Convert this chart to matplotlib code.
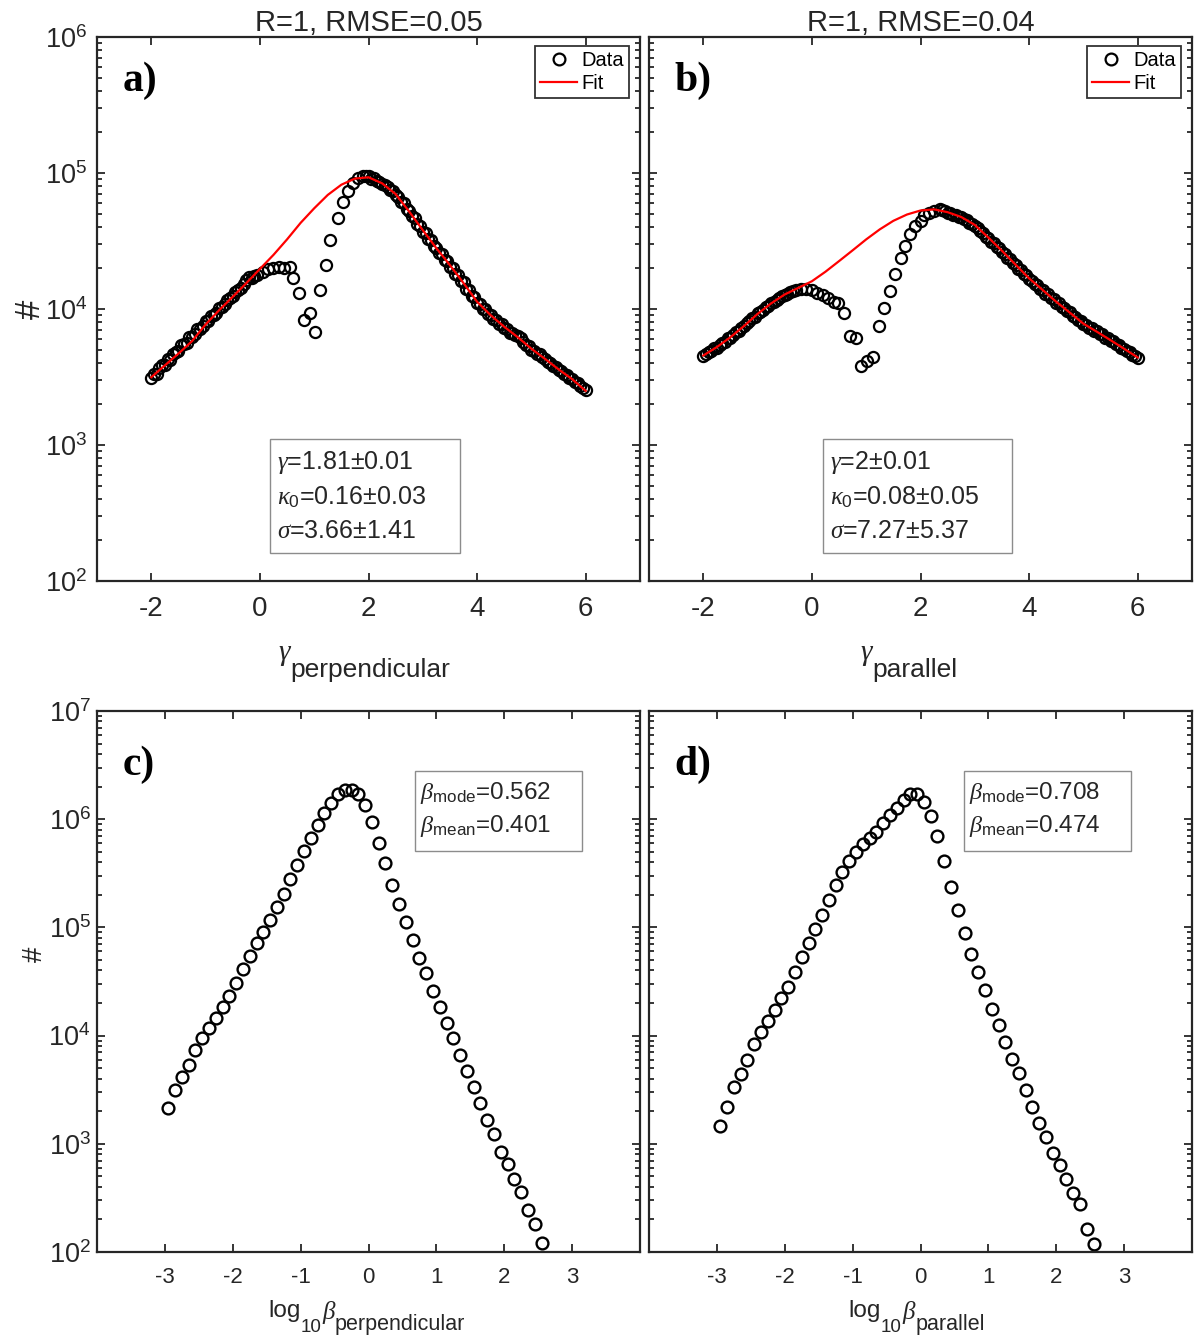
import numpy as np
import matplotlib
matplotlib.use('Agg')
import matplotlib.pyplot as plt
from matplotlib.patches import Rectangle
from matplotlib.lines import Line2D
from matplotlib.ticker import LogLocator, NullFormatter

plt.rcParams['font.family'] = ['Liberation Sans', 'DejaVu Sans']
plt.rcParams['mathtext.fontset'] = 'custom'
plt.rcParams['mathtext.rm'] = 'Liberation Sans'
plt.rcParams['mathtext.it'] = 'Liberation Serif:italic'
plt.rcParams['mathtext.bf'] = 'Liberation Sans:bold'

# ---------------- data: panel a (gamma perpendicular) ----------------
a_x_left = np.linspace(-2.0, -0.30, 35)
a_y_left = [3100, 3350, 3300, 3700, 3850, 3900, 4300, 4250, 4700, 4800,
            4900, 5400, 5500, 5650, 6200, 6250, 6500, 7100, 7150, 7500,
            8100, 8200, 8900, 9000, 9400, 10200, 10300, 10800, 11600, 12000,
            12400, 13300, 13800, 14200, 15300]
a_x_mid = [-0.25, -0.20, -0.15, -0.10, -0.05, 0.05, 0.15, 0.25, 0.35, 0.45,
           0.55, 0.61, 0.72, 0.81, 0.93, 1.02, 1.11, 1.22, 1.30, 1.44,
           1.53, 1.62, 1.71, 1.80, 1.89]
a_y_mid = [16400, 17200, 17000, 17500, 17800, 18600, 19800, 20000, 20200, 20100,
           20400, 16900, 13100, 8300, 9300, 6750, 13700, 21200, 32400, 46800,
           61000, 73500, 84700, 92200, 94800]
a_x_right = np.linspace(1.95, 6.0, 82)
a_y_right = [95500, 94500,
             91000, 91500, 87500, 86500, 82500, 81000, 79000, 74500, 73500, 69000,
             66500, 61500, 60000, 54500, 52500, 48000, 46500, 42000, 41000, 37000,
             36000, 32500, 32000, 29000, 28300, 25800, 25200, 22800, 22500, 20500,
             20100, 18200, 17800, 16100, 15700, 14100, 13800, 12400, 12200, 11000,
             10900, 10000, 10000, 9150, 9100, 8400, 8350, 7800, 7750, 7200,
             7100, 6700, 6650, 6450, 6300, 6150, 5700, 5450, 5350, 5000,
             4950, 4700, 4650, 4400, 4320, 4100, 4020, 3800, 3760, 3550,
             3500, 3320, 3280, 3100, 3060, 2900, 2850, 2700, 2640, 2520]
fit_x = np.linspace(-2.0, 6.0, 33)
a_fit = [3150, 3850, 4700, 5800, 7700, 9800, 12300, 15500, 19700, 25000,
         32500, 43000, 55000, 69000, 82000, 91000, 93000, 84000, 70000, 52000,
         38000, 28000, 21000, 15500, 11300, 9000, 7400, 6200, 5100, 4300,
         3600, 3050, 2500]

# ---------------- data: panel b (gamma parallel) ----------------
b_x_left = np.linspace(-2.0, -0.30, 35)
b_y_left = [4500, 4700, 4850, 4900, 5150, 5200, 5450, 5650, 5700, 6100,
            6150, 6450, 6750, 6900, 7300, 7450, 7900, 8100, 8550, 8800,
            9300, 9500, 9900, 10300, 10500, 11000, 11300, 11700, 12000, 12400,
            12700, 13000, 13400, 13600, 13900]
b_x_mid = [-0.20, -0.10, 0.00, 0.10, 0.20, 0.30, 0.40, 0.48, 0.60, 0.70,
           0.82, 0.91, 1.02, 1.12, 1.23, 1.33, 1.43, 1.53, 1.64, 1.72,
           1.81, 1.90, 2.00, 2.07, 2.15, 2.24]
b_y_mid = [14100, 14000, 13800, 13200, 12600, 12000, 11300, 11100, 9400, 6300,
           6100, 3800, 4150, 4450, 7500, 10200, 13600, 18100, 23900, 29200,
           35500, 40900, 44300, 49300, 50500, 52500]
b_x_right = np.linspace(2.35, 6.0, 74)
b_y_right = [54800, 53000, 52500, 51000, 50800, 49200, 49300, 47800, 47200, 45600,
             45100, 43200, 42500, 40600,
             39500, 37300, 36400, 34100, 33300, 31200, 30500, 28700, 27900, 26200,
             25500, 23900, 23200, 21700, 21200, 19800, 19400, 18100, 17700, 16500,
             16200, 15300, 15000, 14100, 13800, 13000, 12800, 12000, 11800, 11100,
             11000, 10300, 10200, 9600, 9450, 8900, 8800, 8300, 8150, 7700,
             7650, 7300, 7250, 6900, 6850, 6500, 6500, 6150, 6100, 5800,
             5800, 5500, 5450, 5200, 5100, 4900, 4800, 4600, 4500, 4350]
b_fit = [4550, 5250, 6200, 7500, 9200, 11000, 12800, 14300, 16000, 18800,
         22500, 27000, 32500, 38500, 44500, 49500, 53000, 54000, 51500, 47500,
         41500, 33500, 26800, 21200, 16800, 13800, 11300, 9400, 7800, 6800,
         5900, 5100, 4400]

# ---------------- data: panels c, d (log10 beta) ----------------
beta_x = np.linspace(-2.95, 2.55, 56)
c_y = [2130, 3130, 4170, 5350, 7380, 9450, 11700, 14500, 18200, 23200,
       30600, 41500, 54100, 71900, 90600, 116000, 153000, 203000, 278000, 376000,
       505000, 677000, 893000, 1130000, 1410000, 1710000, 1860000, 1860000, 1710000, 1350000,
       943000, 606000, 390000, 249000, 164000, 112000, 76000, 52600, 37500, 25900,
       18500, 13200, 9450, 6600, 4660, 3380, 2400, 1660, 1230, 843,
       646, 468, 356, 242, 180, 122]
d_y = [1460, 2210, 3380, 4440, 5970, 8380, 10800, 13500, 17200, 22200,
       28400, 38500, 53100, 71300, 96600, 130000, 179000, 246000, 328000, 412000,
       500000, 590000, 677000, 757000, 917000, 1090000, 1260000, 1490000, 1700000, 1700000,
       1440000, 1080000, 697000, 408000, 238000, 145000, 88100, 57200, 38500, 26200,
       17700, 12500, 8770, 6030, 4530, 3130, 2170, 1570, 1150, 828,
       640, 472, 349, 275, 163, 118]

titles = ['R=1, RMSE=0.05', 'R=1, RMSE=0.04']
fit_texts = [
    '$\\gamma$=1.81\u00b10.01\n$\\kappa_0$=0.16\u00b10.03\n$\\sigma$=3.66\u00b11.41',
    '$\\gamma$=2\u00b10.01\n$\\kappa_0$=0.08\u00b10.05\n$\\sigma$=7.27\u00b15.37',
]
beta_texts = [
    '$\\beta_{\\mathrm{mode}}$=0.562\n$\\beta_{\\mathrm{mean}}$=0.401',
    '$\\beta_{\\mathrm{mode}}$=0.708\n$\\beta_{\\mathrm{mean}}$=0.474',
]

SANS = 'Liberation Sans'
SERIF = 'Liberation Serif'

# ------------------------- figure -------------------------
W, H = 1200, 1338
fig = plt.figure(figsize=(W / 100, H / 100), dpi=100)


def px_axes(l, t, r, b):
    return fig.add_axes([l / W, 1 - b / H, (r - l) / W, (b - t) / H])


ax_a = px_axes(97, 37, 640, 581)
ax_b = px_axes(649, 37, 1192, 581)
ax_c = px_axes(97, 711, 640, 1252)
ax_d = px_axes(649, 711, 1192, 1252)


def style(ax, xsize, xpad, ypad):
    ax.set_yscale('log')
    ax.yaxis.set_major_locator(LogLocator(base=10, numticks=20))
    ax.yaxis.set_minor_locator(LogLocator(base=10, subs=np.arange(2, 10), numticks=20))
    ax.yaxis.set_minor_formatter(NullFormatter())
    ax.tick_params(which='both', direction='in', top=True, right=True, width=1.3,
                   colors='#262626')
    ax.tick_params(which='major', length=6)
    ax.tick_params(which='minor', length=3.5)
    ax.tick_params(axis='x', labelsize=xsize, pad=xpad)
    ax.tick_params(axis='y', labelsize=19.5, pad=ypad)
    for s in ax.spines.values():
        s.set_linewidth(1.6)
        s.set_color('#262626')


def chain_label(ax, x0, y0, parts):
    # axis label made of pieces (MATLAB-like subscripts at near full size)
    prev = None
    for s, fs, dy, fam, sty in parts:
        if prev is None:
            t = ax.annotate(s, xy=(x0, y0), xycoords='axes fraction',
                            xytext=(0, dy), textcoords='offset points',
                            ha='left', va='baseline', fontsize=fs, family=fam,
                            style=sty, color='#262626')
        else:
            t = ax.annotate(s, xy=(1, y0), xycoords=(prev, 'axes fraction'),
                            xytext=(0.3, dy), textcoords='offset points',
                            ha='left', va='baseline', fontsize=fs, family=fam,
                            style=sty, color='#262626')
        prev = t


mk = dict(ls='none', marker='o', mfc='none', mec='black')

# ---- top row ----
tops = [(ax_a, a_x_left, a_y_left, a_x_mid, a_y_mid, a_x_right, a_y_right, a_fit),
        (ax_b, b_x_left, b_y_left, b_x_mid, b_y_mid, b_x_right, b_y_right, b_fit)]
for i, (ax, xl, yl, xm, ym, xr, yr, fy) in enumerate(tops):
    style(ax, 20, 11, 7)
    x_all = np.concatenate([xl, xm, xr])
    y_all = np.concatenate([yl, ym, yr])
    ax.plot(x_all, y_all, ms=8, mew=1.6, **mk, zorder=2)
    ax.plot(fit_x, fy, color='#ff0000', lw=1.6, zorder=3)
    ax.set_xlim(-3, 7)
    ax.set_ylim(1e2, 1e6)
    ax.set_xticks([-2, 0, 2, 4, 6])
    ax.set_xticklabels(['-2', '0', '2', '4', '6'])
    ax.set_title(titles[i], fontsize=21, pad=3, color='#262626')
    ax.text(0.047, 0.919, 'ab'[i] + ')', transform=ax.transAxes, fontsize=30,
            fontweight='bold', family=SERIF, va='center', ha='left')
    handles = [Line2D([], [], ms=8.5, mew=1.6, **mk),
               Line2D([], [], color='#ff0000', lw=1.6)]
    leg = ax.legend(handles, ['Data', 'Fit'], loc='upper right',
                    bbox_to_anchor=(1 - 11 / 543, 1 - 9 / 544), borderaxespad=0,
                    fontsize=14.5, frameon=True, fancybox=False, handlelength=1.85,
                    handletextpad=0.2, borderpad=0.25, labelspacing=0.2)
    leg.get_frame().set_edgecolor('black')
    leg.get_frame().set_linewidth(1.3)
    x0 = 0.3186 if i == 0 else 0.320
    ax.add_patch(Rectangle((x0, 0.0515), 0.349, 0.2095, transform=ax.transAxes,
                           fc='white', ec='#8c8c8c', lw=1.0, zorder=4))
    ax.text(x0 + 0.013, 0.157, fit_texts[i], transform=ax.transAxes, fontsize=18,
            va='center', ha='left', linespacing=1.45, zorder=5, color='#262626')

ax_a.text(-0.123, 0.5, '#', transform=ax_a.transAxes, rotation=90, fontsize=25,
          ha='center', va='center', color='#262626')
chain_label(ax_a, 0.335, -0.1765,
            [('\u03b3', 21, 12.5, SERIF, 'italic'),
             ('perpendicular', 19, 0, SANS, 'normal')])
chain_label(ax_b, 0.39, -0.1765,
            [('\u03b3', 21, 12.5, SERIF, 'italic'),
             ('parallel', 19, 0, SANS, 'normal')])
ax_b.tick_params(labelleft=False)

# ---- bottom row ----
for i, (ax, yv) in enumerate([(ax_c, c_y), (ax_d, d_y)]):
    style(ax, 16, 11, 4.5)
    ax.plot(beta_x, yv, ms=8.5, mew=1.7, **mk)
    ax.set_xlim(-4, 4)
    ax.set_ylim(1e2, 1e7)
    ax.set_xticks([-3, -2, -1, 0, 1, 2, 3])
    ax.set_xticklabels(['-3', '-2', '-1', '0', '1', '2', '3'])
    ax.text(0.047, 0.90, 'cd'[i] + ')', transform=ax.transAxes, fontsize=30,
            fontweight='bold', family=SERIF, va='center', ha='left')
    x0 = 0.5856 if i == 0 else 0.580
    ax.add_patch(Rectangle((x0, 0.741), 0.308, 0.148, transform=ax.transAxes,
                           fc='white', ec='#8c8c8c', lw=1.0, zorder=4))
    ax.text(x0 + 0.01, 0.818, beta_texts[i], transform=ax.transAxes, fontsize=17.5,
            va='center', ha='left', linespacing=1.4, zorder=5, color='#262626')

ax_c.text(-0.114, 0.55, '#', transform=ax_c.transAxes, rotation=90, fontsize=20,
          ha='center', va='center', color='#262626')
chain_label(ax_c, 0.315, -0.1196,
            [('log', 17.5, 0, SANS, 'normal'),
             ('10', 13.5, -10.8, SANS, 'normal'),
             ('\u03b2', 18, -2, SERIF, 'italic'),
             ('perpendicular', 15.5, -9.6, SANS, 'normal')])
chain_label(ax_d, 0.367, -0.1196,
            [('log', 17.5, 0, SANS, 'normal'),
             ('10', 13.5, -10.8, SANS, 'normal'),
             ('\u03b2', 18, -2, SERIF, 'italic'),
             ('parallel', 15.5, -9.6, SANS, 'normal')])
ax_d.tick_params(labelleft=False)

fig.savefig('out.png', dpi=100)
